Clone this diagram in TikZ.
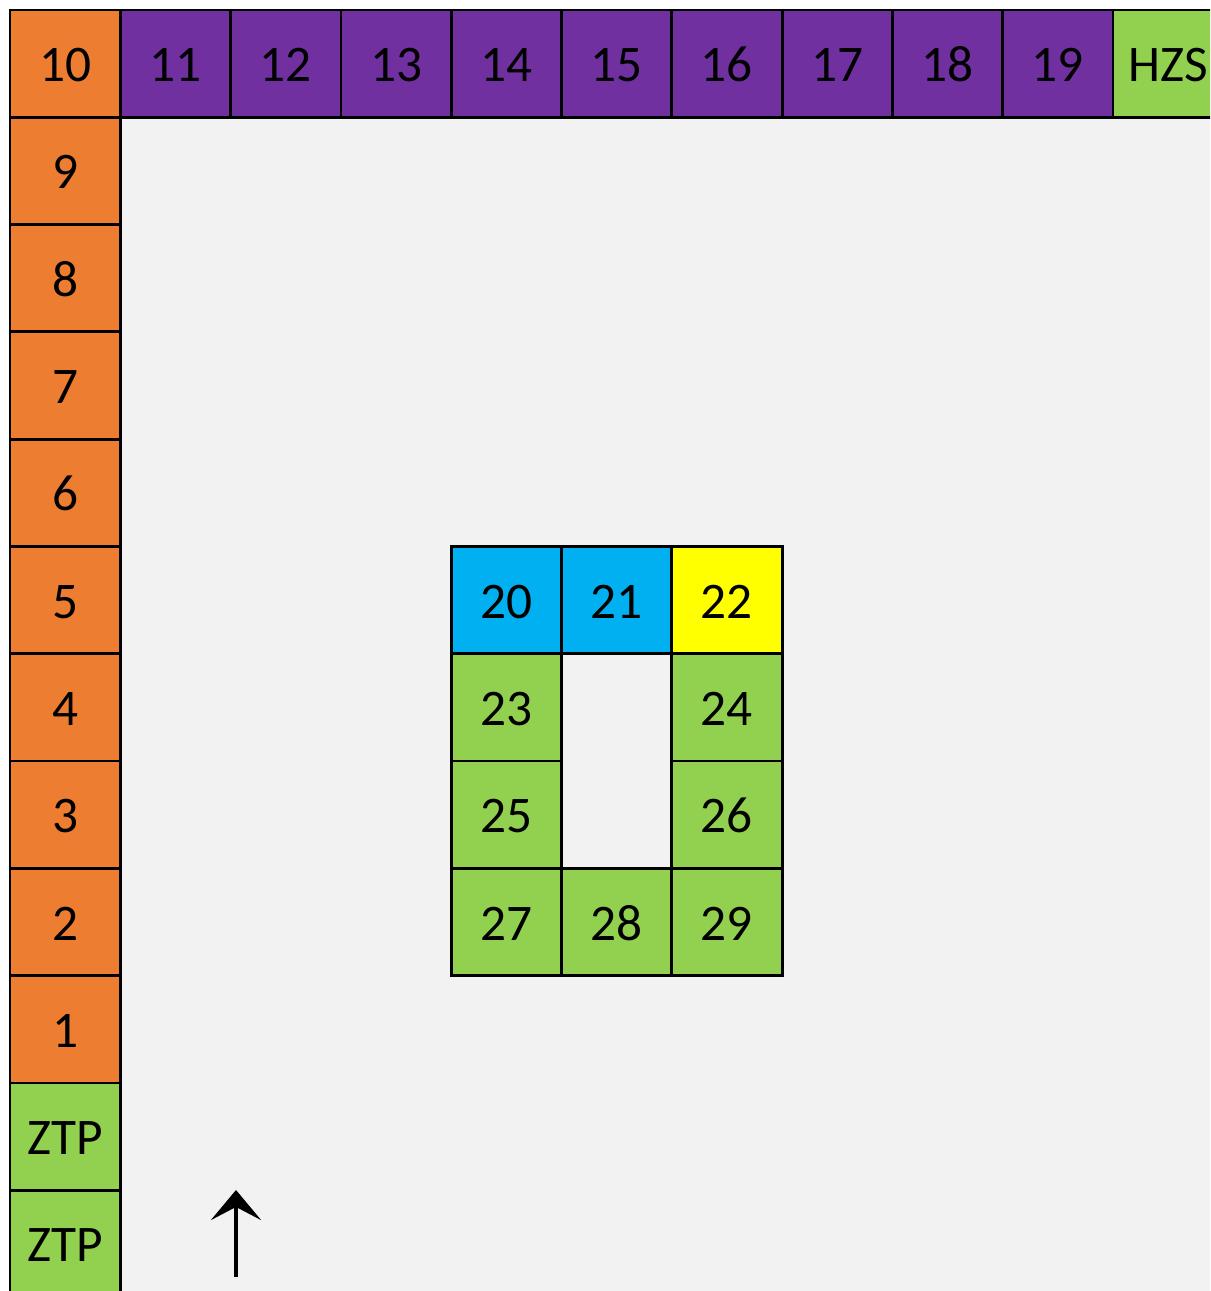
\documentclass[tikz,border=0pt]{standalone}
\usepackage{fontspec}
\setmainfont{Carlito}
\usetikzlibrary{arrows.meta}
\definecolor{tileorange}{HTML}{ED7D31}
\definecolor{tilepurple}{HTML}{7030A0}
\definecolor{tilegreen}{HTML}{92D050}
\definecolor{tileblue}{HTML}{00B0F0}
\definecolor{tileyellow}{HTML}{FFFF00}
\definecolor{floorgray}{HTML}{F2F2F2}
\begin{document}
\begin{tikzpicture}[
	cell/.style={draw=black,line width=0.8pt,minimum width=1.103cm,minimum height=1.073cm,
		inner sep=0pt,text height=0.36cm,text depth=0pt,font=\fontsize{14.6}{17}\selectfont},
	side/.style={cell,fill=tileorange},
	top/.style={cell,fill=tilepurple},
	free/.style={cell,fill=tilegreen},
	water/.style={cell,fill=tileblue},
	mark22/.style={cell,fill=tileyellow}]
			\clip (0,0) rectangle (12.10,12.91);
			\fill[white] (0,0) rectangle (12.10,12.91);
			\fill[floorgray] (0.10,0) rectangle (12.10,12.81);
			% left column
			\node[side] (c10) at (0.6515,12.2735) {10};
			\node[side] (c9) at (0.6515,11.2005) {9};
			\node[side] (c8) at (0.6515,10.1275) {8};
			\node[side] (c7) at (0.6515,9.0545) {7};
			\node[side] (c6) at (0.6515,7.9815) {6};
			\node[side] (c5) at (0.6515,6.9085) {5};
			\node[side] (c4) at (0.6515,5.8355) {4};
			\node[side] (c3) at (0.6515,4.7625) {3};
			\node[side] (c2) at (0.6515,3.6895) {2};
			\node[side] (c1) at (0.6515,2.6165) {1};
			\node[free] (ztpa) at (0.6515,1.5435) {ZTP};
			\node[free] (ztpb) at (0.6515,0.4705) {ZTP};
			% top row
			\node[top] (c11) at (1.7545,12.2735) {11};
			\node[top] (c12) at (2.8575,12.2735) {12};
			\node[top] (c13) at (3.9605,12.2735) {13};
			\node[top] (c14) at (5.0635,12.2735) {14};
			\node[top] (c15) at (6.1665,12.2735) {15};
			\node[top] (c16) at (7.2695,12.2735) {16};
			\node[top] (c17) at (8.3725,12.2735) {17};
			\node[top] (c18) at (9.4755,12.2735) {18};
			\node[top] (c19) at (10.5785,12.2735) {19};
			\node[free] (hzs) at (11.6815,12.2735) {HZS};
			% inner block
			\node[water] (c20) at (5.0635,6.9085) {20};
			\node[water] (c21) at (6.1665,6.9085) {21};
			\node[mark22] (c22) at (7.2695,6.9085) {22};
			\node[free] (c23) at (5.0635,5.8355) {23};
			\node[free] (c24) at (7.2695,5.8355) {24};
			\node[free] (c25) at (5.0635,4.7625) {25};
			\node[free] (c26) at (7.2695,4.7625) {26};
			\node[free] (c27) at (5.0635,3.6895) {27};
			\node[free] (c28) at (6.1665,3.6895) {28};
			\node[free] (c29) at (7.2695,3.6895) {29};
			% arrow
			\coordinate (arrowfoot) at (2.36,0.14);
			\coordinate (arrowtip) at (2.36,1.01);
			\draw[line width=1.15pt,-{Stealth[length=3mm,width=5mm,inset=1.3mm]}] (arrowfoot) -- (arrowtip);
\end{tikzpicture}
\end{document}
